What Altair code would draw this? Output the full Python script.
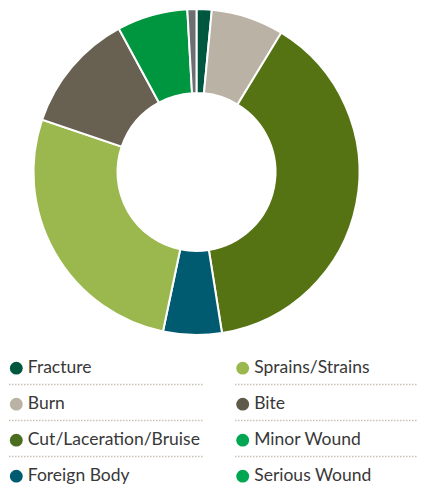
import altair as alt
import pandas as pd

# Donut slices, clockwise from 12 o'clock
slices = ["Fracture", "Burn", "Cut/Laceration/Bruise", "Foreign Body",
          "Sprains/Strains", "Bite", "Minor Wound", "Serious Wound"]
shares = [1.5, 7.2, 38.8, 5.8, 26.9, 11.9, 7.0, 0.9]
slice_colors = ["#00573f", "#bab2a5", "#567314", "#005a70",
                "#9bb84f", "#686050", "#00963f", "#6d6e71"]

# Legend (two columns, read row by row)
legend_labels = ["Fracture", "Sprains/Strains", "Burn", "Bite",
                 "Cut/Laceration/Bruise", "Minor Wound", "Foreign Body", "Serious Wound"]
legend_colors = ["#00573f", "#9bb84f", "#bab2a5", "#5e5a4a",
                 "#4b6e1e", "#00a651", "#005a70", "#00a651"]

pie_df = pd.DataFrame({
    "cat": slices,
    "share": shares,
    "color": slice_colors,
    "idx": list(range(len(slices))),
})

leg_df = pd.DataFrame({
    "label": legend_labels,
    "color": legend_colors,
    "row": [i // 2 for i in range(len(legend_labels))],
    "col": [i % 2 for i in range(len(legend_labels))],
})

W, H = 409, 477

donut = alt.Chart(pie_df).mark_arc(
    innerRadius=79, outerRadius=163, stroke="white", strokeWidth=2
).encode(
    theta=alt.Theta("share:Q", stack=True),
    color=alt.Color("color:N", scale=None),
    order=alt.Order("idx:Q"),
    x=alt.value(188.5),
    y=alt.value(164),
)

xs = alt.Scale(domain=[0, 1], range=[8.3, 234.7])
ys = alt.Scale(domain=[0, 3], range=[360.2, 468.2])

base = alt.Chart(leg_df)

dots = base.mark_circle(size=165, opacity=1).encode(
    x=alt.X("col:Q", scale=xs, axis=None),
    y=alt.Y("row:Q", scale=ys, axis=None),
    color=alt.Color("color:N", scale=None),
)

labels = base.mark_text(
    align="left", baseline="middle", dx=11.5, fontSize=17.5, font="Lato", color="#383838"
).encode(
    x=alt.X("col:Q", scale=xs, axis=None),
    y=alt.Y("row:Q", scale=ys, axis=None),
    text="label:N",
)

rule_left = base.transform_filter("datum.col == 0").mark_rule(
    color="#c9c1b4", strokeWidth=1.5, strokeDash=[1.5, 1.5], yOffset=16.2
).encode(
    x=alt.value(1), x2=alt.value(196),
    y=alt.Y("row:Q", scale=ys, axis=None),
)

rule_right = base.transform_filter("datum.col == 1").mark_rule(
    color="#c9c1b4", strokeWidth=1.5, strokeDash=[1.5, 1.5], yOffset=16.2
).encode(
    x=alt.value(227), x2=alt.value(417),
    y=alt.Y("row:Q", scale=ys, axis=None),
)

chart = alt.layer(donut, rule_left, rule_right, dots, labels).properties(
    width=W, height=H, padding=0,
    autosize=alt.AutoSizeParams(type="none"),
).configure_view(stroke=None)

chart.save("out.html", embed_options={"renderer": "svg", "actions": False})
